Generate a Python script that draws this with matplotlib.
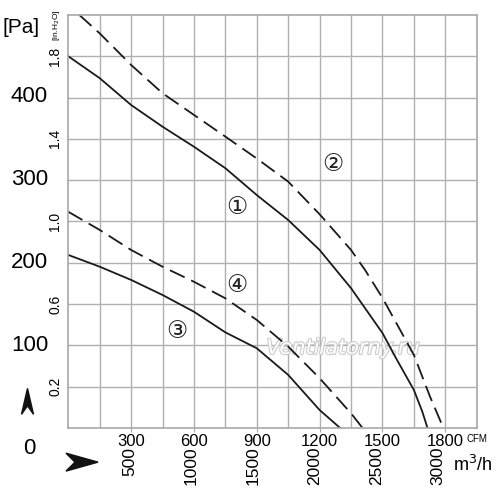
import numpy as np
import matplotlib.pyplot as plt
import matplotlib.transforms as mtransforms
import matplotlib.patheffects as pe
from matplotlib.patches import Polygon

# flow in CFM, pressure in in.H2O
c1_x = [0, 150, 300, 450, 600, 750, 900, 1050, 1200, 1350, 1500, 1561, 1650, 1690, 1715]
c1_y = [1.80, 1.694, 1.564, 1.459, 1.362, 1.258, 1.128, 1.007, 0.862, 0.677, 0.46, 0.345, 0.184, 0.08, 0.0]

c2_x = [53, 150, 300, 450, 600, 750, 900, 1050, 1200, 1350, 1417, 1500, 1650, 1727, 1791]
c2_y = [2.0, 1.911, 1.758, 1.621, 1.516, 1.411, 1.305, 1.193, 1.035, 0.862, 0.765, 0.63, 0.354, 0.152, 0.0]

c3_x = [0, 150, 300, 450, 600, 750, 900, 1050, 1200, 1298]
c3_y = [0.838, 0.781, 0.717, 0.644, 0.563, 0.463, 0.386, 0.257, 0.087, 0.0]

c4_x = [0, 150, 300, 450, 600, 750, 900, 1050, 1200, 1350, 1405]
c4_y = [1.047, 0.959, 0.862, 0.781, 0.708, 0.628, 0.523, 0.394, 0.241, 0.071, 0.0]

cfm_ticks = [300, 600, 900, 1200, 1500, 1800]
m3h_ticks = [500, 1000, 1500, 2000, 2500, 3000]
inh2o_ticks = [0.2, 0.6, 1.0, 1.4, 1.8]
pa_ticks = [100, 200, 300, 400]

narrow = ['Liberation Sans Narrow', 'Liberation Sans', 'DejaVu Sans']

fig = plt.figure(figsize=(5, 4.98), dpi=100)
ax = fig.add_axes([0.1366, 0.1406, 0.8168, 0.8293])
ax.set_xlim(0, 1950)
ax.set_ylim(0, 2.0)

for v in np.arange(150, 1950, 150):
    ax.axvline(v, color='#b0b0b0', lw=1.0, zorder=0)
for v in np.arange(0.2, 2.0, 0.2):
    ax.axhline(v, color='#b0b0b0', lw=1.0, zorder=0)
for s in ax.spines.values():
    s.set_color('#a8a8a8')
    s.set_linewidth(1.2)

ax.text(0.673, 0.194, 'Ventilatorny.ru', transform=ax.transAxes, ha='center', va='center',
        fontsize=15, style='italic', color='white', zorder=1,
        path_effects=[pe.Stroke(linewidth=1.6, foreground='#cccccc'), pe.Normal()])

ax.plot(c1_x, c1_y, color='#1a1a1a', lw=1.3, zorder=2)
ax.plot(c2_x, c2_y, color='#1a1a1a', lw=1.3, dashes=(9, 4), zorder=2)
ax.plot(c3_x, c3_y, color='#1a1a1a', lw=1.3, zorder=2)
ax.plot(c4_x, c4_y, color='#1a1a1a', lw=1.3, dashes=(9, 4), zorder=2)

ax.set_xticks(cfm_ticks)
ax.set_xticklabels([str(t) for t in cfm_ticks], fontsize=12, family=narrow)
ax.tick_params(axis='x', length=3, color='#a8a8a8', pad=1)
ax.set_yticks([])

cfm = 1 / 1.699
xt = mtransforms.blended_transform_factory(ax.transData, ax.transAxes)
for m in m3h_ticks:
    ax.text(m * cfm, -0.045, str(m), transform=xt, rotation=90,
            ha='center', va='top', fontsize=12.5, family=narrow)
ax.text(0.99, -0.09, 'm$^3$/h', transform=ax.transAxes, ha='center', va='center', fontsize=13,
        family=narrow)
ax.text(1.0, -0.026, 'CFM', transform=ax.transAxes, ha='center', va='center', fontsize=7,
        family=narrow)

yt = mtransforms.blended_transform_factory(ax.transAxes, ax.transData)
for v in inh2o_ticks:
    ax.text(-0.015, v, f'{v:.1f}', transform=yt, rotation=90,
            ha='right', va='center', fontsize=10, family=narrow)
ax.text(-0.015, 1.95, '[in.H$_2$O]', transform=yt, rotation=90,
        ha='right', va='center', fontsize=6, family=narrow)
for p in pa_ticks:
    ax.text(-0.095, p / 249.0, str(p), transform=yt, ha='center', va='center', fontsize=16,
            family=narrow)
ax.text(-0.095, -0.1, '0', transform=yt, ha='center', va='center', fontsize=16, family=narrow)
ax.text(-0.115, 1.94, '[Pa]', transform=yt, ha='center', va='center', fontsize=15, family=narrow)

for lab, x, y in [('①', 805, 1.07), ('②', 1265, 1.28), ('③', 520, 0.47), ('④', 805, 0.69)]:
    ax.text(x, y, lab, ha='center', va='center', fontsize=17, color='#222222')

# arrow heads
fig.patches.append(Polygon([[0.043, 0.168], [0.055, 0.220], [0.067, 0.168], [0.055, 0.185]],
                           closed=True, transform=fig.transFigure, color='#111111'))
fig.patches.append(Polygon([[0.132, 0.090], [0.196, 0.072], [0.132, 0.054], [0.150, 0.072]],
                           closed=True, transform=fig.transFigure, color='#111111'))

fig.savefig('out.png', dpi=100)
